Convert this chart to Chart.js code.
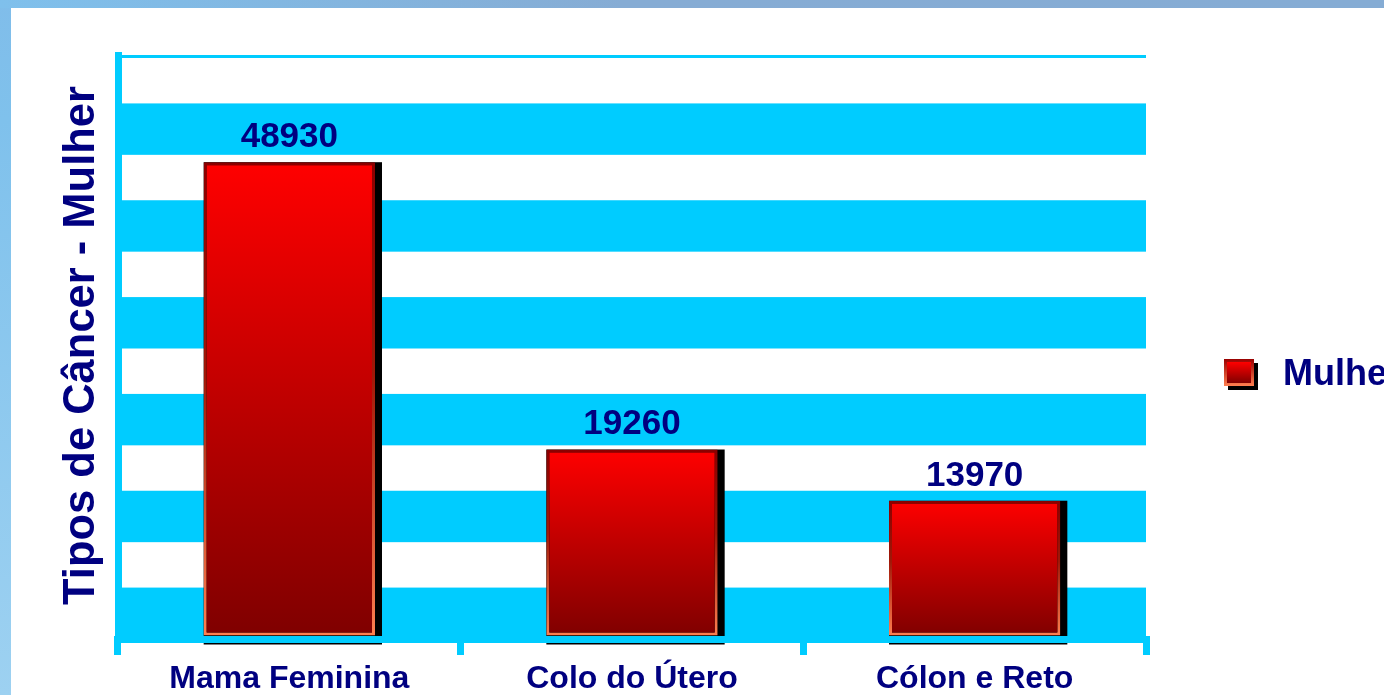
<!DOCTYPE html>
<html>
<head>
<meta charset="utf-8">
<script src="https://cdn.jsdelivr.net/npm/chart.js@4"></script>
<style>
html, body { margin: 0; padding: 0; width: 1384px; height: 695px; overflow: hidden; }
body { position: relative; background: linear-gradient(180deg, #80bdea 0px, #7fc1ec 120px, #9dd1f1 695px); }
#topstrip { position: absolute; left: 0; top: 0; width: 1384px; height: 8px; background: linear-gradient(90deg, #7fc0ec 0%, #86acd4 45%, #85acd4 100%); }
#panel { position: absolute; left: 11px; top: 8px; right: 0; bottom: 0; background: #ffffff; }
#c { position: absolute; left: 0; top: 0; }
</style>
</head>
<body>
<div id="topstrip"></div>
<div id="panel"></div>
<canvas id="c" width="1410" height="695" style="width:1410px;height:695px"></canvas>
<script>
// ---- data ----
const categories = ['Mama Feminina', 'Colo do Útero', 'Cólon e Reto'];
const seriesName = 'Mulher';
const valuesMulher = [48930, 19260, 13970];
const yTitle = 'Tipos de Câncer - Mulher';
const yMin = 0;
const yMax = 60000;
const yStep = 5000;

// ---- style ----
const CYAN = '#00ccff';
const NAVY = '#000080';
const FAMILY = '"Liberation Sans", Arial, Helvetica, sans-serif';

// legend icon (3D red box with black shadow)
const legendIcon = document.createElement('canvas');
legendIcon.width = 42; legendIcon.height = 32;
(function () {
  const lc = legendIcon.getContext('2d');
  lc.fillStyle = '#000';
  lc.fillRect(4, 4, 30, 27);
  let g = lc.createLinearGradient(0, 0, 0, 27);
  g.addColorStop(0, '#990000'); g.addColorStop(1, '#ff7f50');
  lc.fillStyle = g; lc.fillRect(0, 0, 30, 27);
  g = lc.createLinearGradient(0, 3, 0, 24);
  g.addColorStop(0, '#ff0000'); g.addColorStop(1, '#800000');
  lc.fillStyle = g; lc.fillRect(3, 3, 24, 21);
})();

function barGradient(c, stops) {
  const chart = c.chart;
  if (!chart.chartArea || c.type !== 'data') return stops[stops.length - 1][1];
  const y = chart.scales.y;
  const top = y.getPixelForValue(c.raw);
  const base = y.getPixelForValue(0);
  const g = chart.ctx.createLinearGradient(0, top, 0, base);
  stops.forEach(s => g.addColorStop(s[0], s[1]));
  return g;
}

const decor = {
  id: 'decor',
  beforeDraw(chart) {
    const { ctx, chartArea: a, scales: { y } } = chart;
    ctx.save();
    ctx.fillStyle = CYAN;
    const t = y.ticks;
    for (let i = 0; i < t.length - 1; i++) {
      if (Math.round(t[i].value / yStep) % 2 === 0) {
        const top = y.getPixelForValue(t[i + 1].value);
        const bot = y.getPixelForValue(t[i].value) + 3;
        ctx.fillRect(a.left, top, a.right - a.left, bot - top);
      }
    }
    const yt = y.getPixelForValue(y.max);
    ctx.fillRect(a.left, yt, a.right - a.left, 3);
    ctx.restore();
  },
  beforeDatasetsDraw(chart) {
    const { ctx, chartArea: a } = chart;
    const meta = chart.getDatasetMeta(0);
    ctx.save();
    ctx.fillStyle = '#000';
    meta.data.forEach(bar => {
      const p = bar.getProps(['x', 'y', 'base', 'width'], true);
      ctx.fillRect(p.x - p.width / 2, p.y, p.width + 7, p.base - p.y + 9);
    });
    ctx.fillStyle = CYAN;
    ctx.fillRect(a.left - 4, a.bottom, a.right - a.left + 4, 7);
    ctx.restore();
  },
  afterDatasetsDraw(chart) {
    const { ctx } = chart;
    const meta = chart.getDatasetMeta(0);
    const data = chart.data.datasets[0].data;
    ctx.save();
    ctx.font = 'bold 35px ' + FAMILY;
    ctx.fillStyle = NAVY;
    ctx.textAlign = 'center';
    ctx.textBaseline = 'alphabetic';
    meta.data.forEach((bar, i) => {
      ctx.fillText(String(data[i]), bar.x, bar.y - 15);
    });
    ctx.restore();
  }
};

new Chart(document.getElementById('c'), {
  type: 'bar',
  data: {
    labels: categories,
    datasets: [{
      label: seriesName,
      data: valuesMulher,
      backgroundColor: c => barGradient(c, [[0, '#ff0000'], [1, '#7f0000']]),
      borderColor: c => barGradient(c, [[0, '#8b0000'], [0.45, '#a01808'], [1, '#ff7f50']]),
      borderWidth: 3,
      borderSkipped: false,
      barPercentage: 0.5,
      categoryPercentage: 1.0
    }]
  },
  options: {
    responsive: false,
    animation: false,
    devicePixelRatio: 1,
    layout: { padding: { top: 55, right: 14, bottom: 0, left: 0 } },
    plugins: {
      tooltip: { enabled: false },
      legend: {
        position: 'right',
        maxWidth: 250,
        labels: {
          usePointStyle: true,
          pointStyleWidth: 40,
          padding: 79,
          color: NAVY,
          font: { family: FAMILY, size: 36, weight: 'bold' },
          generateLabels: chart => chart.data.datasets.map((ds, i) => ({
            text: ds.label, pointStyle: legendIcon, fillStyle: '#cc0000',
            strokeStyle: 'transparent', lineWidth: 0, hidden: false,
            datasetIndex: i, fontColor: NAVY
          }))
        }
      }
    },
    scales: {
      x: {
        grid: { display: true, drawOnChartArea: false, drawTicks: true, tickLength: 19, lineWidth: 7, color: CYAN, offset: true },
        border: { display: false },
        ticks: { color: NAVY, font: { family: FAMILY, size: 32, weight: 'bold' }, padding: 5, maxRotation: 0, autoSkip: false },
        afterFit: s => { s.height = 59; }
      },
      y: {
        min: yMin,
        max: yMax,
        ticks: { stepSize: yStep, display: false },
        grid: { display: true, drawOnChartArea: false, drawTicks: false, color: 'rgba(0,0,0,0)' },
        border: { display: true, color: CYAN, width: 7 },
        title: { display: true, text: yTitle, color: NAVY, font: { family: FAMILY, size: 43.5, weight: 'bold', lineHeight: 1.2 }, padding: { top: 56, bottom: 0 } },
        afterFit: s => { s.width = 118; }
      }
    }
  },
  plugins: [decor]
});
</script>
</body>
</html>
